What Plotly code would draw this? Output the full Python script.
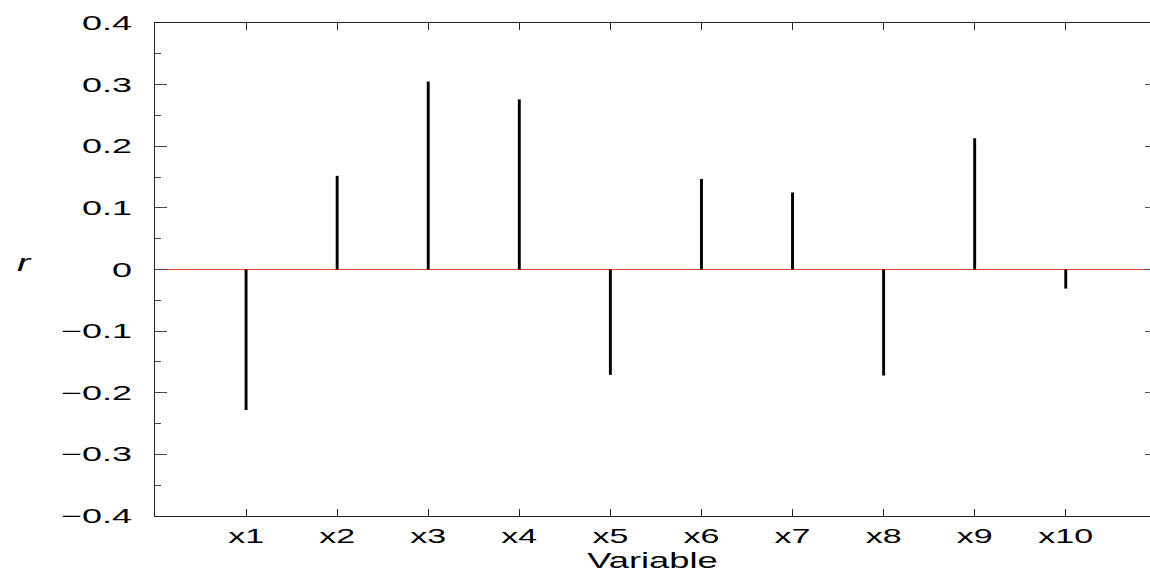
import plotly.graph_objects as go

# Correlation of each variable with the response
variables = ["x1", "x2", "x3", "x4", "x5", "x6", "x7", "x8", "x9", "x10"]
r_values = [-0.228, 0.152, 0.305, 0.276, -0.171, 0.147, 0.125, -0.172, 0.213, -0.031]

y_tick_values = [-0.4, -0.3, -0.2, -0.1, 0, 0.1, 0.2, 0.3, 0.4]
y_tick_labels = ["\u22120.4", "\u22120.3", "\u22120.2", "\u22120.1", "0", "0.1", "0.2", "0.3", "0.4"]

positions = list(range(1, len(variables) + 1))

FONT = "Liberation Sans, Arial, Helvetica, sans-serif"
AXIS_COLOR = "#222222"

fig = go.Figure()
fig.add_trace(go.Bar(
    x=positions,
    y=r_values,
    width=0.032,
    marker=dict(color="#000000", line=dict(width=0)),
    showlegend=False,
))
# invisible helper trace that carries the right-hand tick marks
fig.add_trace(go.Scatter(x=[positions[0]], y=[0], yaxis="y2", mode="markers",
                         marker=dict(opacity=0), showlegend=False, hoverinfo="skip"))

fig.update_layout(
    width=1150,
    height=576,
    margin=dict(l=155, r=0, t=23, b=60),
    paper_bgcolor="white",
    plot_bgcolor="white",
    font=dict(family=FONT, size=20, color="#000000"),
    xaxis=dict(
        range=[0, 10.925],
        tickvals=positions,
        ticktext=variables,
        showline=True,
        linecolor=AXIS_COLOR,
        linewidth=1,
        mirror="ticks",
        ticks="inside",
        ticklen=7,
        tickcolor=AXIS_COLOR,
        showgrid=False,
        zeroline=False,
        ticklabelstandoff=2,
        title=dict(text="Variable", font=dict(size=22), standoff=6),
    ),
    yaxis=dict(
        range=[-0.4, 0.4],
        tickvals=y_tick_values,
        ticktext=y_tick_labels,
        showline=True,
        linecolor=AXIS_COLOR,
        linewidth=1,
        ticks="inside",
        ticklen=12,
        tickcolor="#444444",
        minor=dict(ticks="inside", ticklen=6, dtick=0.05, tickcolor="#444444", showgrid=False),
        showgrid=False,
        zeroline=True,
        zerolinecolor="#e0453a",
        zerolinewidth=1,
        ticklabelstandoff=18,
    ),
    yaxis2=dict(
        range=[-0.4, 0.4],
        overlaying="y",
        side="right",
        tickvals=y_tick_values,
        showticklabels=False,
        showline=False,
        ticks="inside",
        ticklen=5,
        tickcolor="#555555",
        showgrid=False,
        zeroline=False,
    ),
    annotations=[dict(
        text="<i>r</i>", xref="paper", yref="paper",
        x=(18 - 155) / 995, y=(576 - 60 - 262) / 493,
        showarrow=False, font=dict(size=24),
    )],
)

# widen the lettering horizontally
stretch_js = """
var gd = document.getElementById('{plot_id}');
function widen(t, s) {
  var bb = t.getBBox();
  var anchor = t.getAttribute('text-anchor') || 'start';
  var ax = anchor === 'end' ? bb.x + bb.width : (anchor === 'middle' ? bb.x + bb.width / 2 : bb.x);
  var pt = t.ownerSVGElement.createSVGPoint();
  pt.x = ax; pt.y = bb.y;
  var m = t.transform.baseVal.consolidate();
  if (m) { pt = pt.matrixTransform(m.matrix); }
  var old = t.getAttribute('transform') || '';
  t.setAttribute('transform', 'translate(' + pt.x + ',0) scale(' + s + ',1) translate(' + (-pt.x) + ',0) ' + old);
}
gd.querySelectorAll('.xtick text').forEach(function (t) { widen(t, 1.7); });
gd.querySelectorAll('.ytick text').forEach(function (t) { widen(t, 1.8); });
gd.querySelectorAll('.g-xtitle text, .annotation-text').forEach(function (t) { widen(t, 1.65); });
"""

fig.write_html("out.html", post_script=stretch_js)
